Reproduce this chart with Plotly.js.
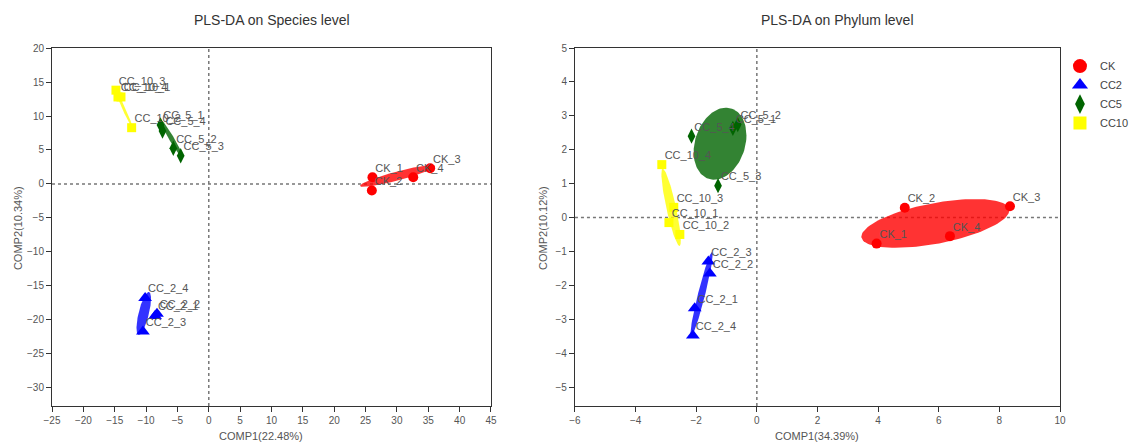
<!DOCTYPE html>
<html><head><meta charset="utf-8">
<script src="https://cdn.plot.ly/plotly-3.0.1.min.js"></script>
<style>html,body{margin:0;padding:0;background:#fff}#chart{width:1131px;height:443px}</style>
</head><body><div id="chart"></div>
<script>
// ---------- groups ----------
const groups = ['CK', 'CC2', 'CC5', 'CC10'];
const groupColors = ['#FF0000', '#0000FF', '#006400', '#FFFF00'];
const groupFills = ['rgba(255,0,0,0.8)', 'rgba(0,0,255,0.8)', 'rgba(0,100,0,0.8)', 'rgba(255,255,0,0.8)'];
const groupSymbols = ['circle', 'triangle-up', 'diamond-tall', 'square'];
const groupSizes = [10, 12, 11, 9];

// ---------- sample labels ----------
const ckLabels = ['CK_1', 'CK_2', 'CK_3', 'CK_4'];
const cc2Labels = ['CC_2_1', 'CC_2_2', 'CC_2_3', 'CC_2_4'];
const cc5Labels = ['CC_5_1', 'CC_5_2', 'CC_5_3', 'CC_5_4'];
const cc10Labels = ['CC_10_1', 'CC_10_2', 'CC_10_3', 'CC_10_4'];

// ---------- Species level scores (COMP1, COMP2) ----------
const speciesCKx = [26.1, 26.0, 35.3, 32.6];
const speciesCKy = [0.99, -0.95, 2.31, 0.99];
const speciesCC2x = [-8.57, -8.26, -10.5, -10.15];
const speciesCC2y = [-19.4, -19.1, -21.7, -16.76];
const speciesCC5x = [-7.70, -5.66, -4.48, -7.38];
const speciesCC5y = [8.68, 5.25, 4.16, 7.79];
const speciesCC10x = [-14.0, -12.3, -14.8, -14.48];
const speciesCC10y = [12.8, 8.28, 13.8, 12.8];
// ellipse per group: [centerX, centerY, axis1X, axis1Y, axis2X, axis2Y]
const speciesCKEllipse = [30.1, 1.18, 5.98, 1.47, 0.185, -0.64];
const speciesCC2Ellipse = [-10.37, -19.04, 0.837, 3.16, 0.80, -0.18];
const speciesCC5Ellipse = [-5.95, 6.69, 1.834, -2.868, 0.344, 0.187];
const speciesCC10Ellipse = [-13.6, 11.18, 1.515, -3.09, 0.218, 0.091];

// ---------- Phylum level scores (COMP1, COMP2) ----------
const phylumCKx = [3.95, 4.88, 8.35, 6.37];
const phylumCKy = [-0.77, 0.29, 0.33, -0.55];
const phylumCC2x = [-2.05, -1.55, -1.60, -2.11];
const phylumCC2y = [-2.68, -1.65, -1.30, -3.48];
const phylumCC5x = [-0.79, -0.63, -1.28, -2.155];
const phylumCC5y = [2.63, 2.74, 0.94, 2.40];
const phylumCC10x = [-2.90, -2.54, -2.74, -3.135];
const phylumCC10y = [-0.15, -0.50, 0.30, 1.56];
const phylumEllipseScale = 1.27;

// ---------- axes ----------
const speciesXRange = [-25, 45];
const speciesYRange = [-32.65, 20];
const phylumXRange = [-6, 10];
const phylumYRange = [-5.56, 5];
const titles = ['PLS-DA on Species level', 'PLS-DA on Phylum level'];
const xTitles = ['COMP1(22.48%)', 'COMP1(34.39%)'];
const yTitles = ['COMP2(10.34%)', 'COMP2(10.12%)'];

// ---------- helpers ----------
const N = 120;
function paramEllipse(p) {
  const xs = [], ys = [];
  for (let i = 0; i <= N; i++) {
    const t = 2 * Math.PI * i / N;
    xs.push(p[0] + p[2] * Math.cos(t) + p[4] * Math.sin(t));
    ys.push(p[1] + p[3] * Math.cos(t) + p[5] * Math.sin(t));
  }
  return [xs, ys];
}
function covEllipse(x, y, k) {
  const n = x.length;
  const mx = x.reduce((a, b) => a + b, 0) / n, my = y.reduce((a, b) => a + b, 0) / n;
  let sxx = 0, syy = 0, sxy = 0;
  for (let i = 0; i < n; i++) {
    sxx += (x[i] - mx) ** 2; syy += (y[i] - my) ** 2; sxy += (x[i] - mx) * (y[i] - my);
  }
  sxx /= (n - 1); syy /= (n - 1); sxy /= (n - 1);
  const l11 = Math.sqrt(sxx), l21 = sxy / l11, l22 = Math.sqrt(Math.max(syy - l21 * l21, 1e-9));
  const xs = [], ys = [];
  for (let i = 0; i <= N; i++) {
    const t = 2 * Math.PI * i / N;
    xs.push(mx + k * l11 * Math.cos(t));
    ys.push(my + k * (l21 * Math.cos(t) + l22 * Math.sin(t)));
  }
  return [xs, ys];
}

const labels = [ckLabels, cc2Labels, cc5Labels, cc10Labels];
const speciesX = [speciesCKx, speciesCC2x, speciesCC5x, speciesCC10x];
const speciesY = [speciesCKy, speciesCC2y, speciesCC5y, speciesCC10y];
const speciesEll = [speciesCKEllipse, speciesCC2Ellipse, speciesCC5Ellipse, speciesCC10Ellipse];
const phylumX = [phylumCKx, phylumCC2x, phylumCC5x, phylumCC10x];
const phylumY = [phylumCKy, phylumCC2y, phylumCC5y, phylumCC10y];

const traces = [];
const txtFont = {family: 'Liberation Sans, Arial, sans-serif', size: 11, color: '#555'};

// ellipses
groups.forEach((g, i) => {
  const e1 = paramEllipse(speciesEll[i]);
  traces.push({x: e1[0], y: e1[1], xaxis: 'x', yaxis: 'y', mode: 'lines', fill: 'toself',
    fillcolor: groupFills[i], line: {width: 0, color: groupFills[i]}, showlegend: false, hoverinfo: 'skip'});
  const e2 = covEllipse(phylumX[i], phylumY[i], phylumEllipseScale);
  traces.push({x: e2[0], y: e2[1], xaxis: 'x2', yaxis: 'y2', mode: 'lines', fill: 'toself',
    fillcolor: groupFills[i], line: {width: 0, color: groupFills[i]}, showlegend: false, hoverinfo: 'skip'});
});
// markers
groups.forEach((g, i) => {
  [['x', 'y', speciesX[i], speciesY[i]], ['x2', 'y2', phylumX[i], phylumY[i]]].forEach(([xa, ya, xs, ys]) => {
    traces.push({x: xs, y: ys, xaxis: xa, yaxis: ya, mode: 'markers', showlegend: false,
      marker: {symbol: groupSymbols[i], size: groupSizes[i], color: groupColors[i], line: {width: 0}}});
  });
});
// labels
groups.forEach((g, i) => {
  [['x', 'y', speciesX[i], speciesY[i]], ['x2', 'y2', phylumX[i], phylumY[i]]].forEach(([xa, ya, xs, ys]) => {
    traces.push({x: xs, y: ys, xaxis: xa, yaxis: ya, mode: 'markers+text', text: labels[i],
      textposition: 'top right', textfont: txtFont, showlegend: false, hoverinfo: 'skip',
      marker: {size: 3, color: 'rgba(0,0,0,0)'}});
  });
});
// legend entries
const legendSizes = [14, 14, 14, 13];
groups.forEach((g, i) => {
  traces.push({x: [null], y: [null], xaxis: 'x2', yaxis: 'y2', mode: 'markers', name: g, showlegend: true,
    marker: {symbol: groupSymbols[i], size: legendSizes[i], color: groupColors[i]}});
});

const axisBase = {showline: true, mirror: true, linecolor: '#333', linewidth: 1, ticks: 'outside',
  ticklen: 5, tickcolor: '#333', showgrid: false, zeroline: false,
  tickfont: {family: 'Liberation Sans, Arial, sans-serif', size: 10, color: '#555'}};

const dot = {color: '#777', width: 1.5, dash: 'dot'};
const layout = {
  width: 1131, height: 443,
  margin: {l: 52, r: 71, t: 48, b: 37, autoexpand: false},
  paper_bgcolor: '#fff', plot_bgcolor: '#fff',
  hovermode: false,
  font: {family: 'Liberation Sans, Arial, sans-serif'},
  xaxis: Object.assign({}, axisBase, {domain: [0, 0.4355], range: speciesXRange, dtick: 5, tick0: 0, anchor: 'y'}),
  yaxis: Object.assign({}, axisBase, {domain: [0, 1], range: speciesYRange, dtick: 5, tick0: 0, anchor: 'x'}),
  xaxis2: Object.assign({}, axisBase, {domain: [0.5188, 1], range: phylumXRange, dtick: 2, tick0: 0, anchor: 'y2'}),
  yaxis2: Object.assign({}, axisBase, {domain: [0, 1], range: phylumYRange, dtick: 1, tick0: 0, anchor: 'x2'}),
  showlegend: true,
  legend: {xref: 'container', x: 0.9372, y: 0.99, xanchor: 'left', yanchor: 'top', bgcolor: 'rgba(0,0,0,0)',
    font: {family: 'Liberation Sans, Arial, sans-serif', size: 11, color: '#444'}, tracegroupgap: 0},
  shapes: [
    {type: 'line', layer: 'below', xref: 'x', yref: 'y domain', x0: 0, x1: 0, y0: 0, y1: 1, line: dot},
    {type: 'line', layer: 'below', xref: 'x domain', yref: 'y', x0: 0, x1: 1, y0: 0, y1: 0, line: dot},
    {type: 'line', layer: 'below', xref: 'x2', yref: 'y2 domain', x0: 0, x1: 0, y0: 0, y1: 1, line: dot},
    {type: 'line', layer: 'below', xref: 'x2 domain', yref: 'y2', x0: 0, x1: 1, y0: 0, y1: 0, line: dot}
  ],
  annotations: [
    {text: titles[0], xref: 'paper', yref: 'paper', x: 0.218, y: 1.078, showarrow: false, xanchor: 'center', yanchor: 'middle',
      font: {size: 14, color: '#333'}},
    {text: titles[1], xref: 'paper', yref: 'paper', x: 0.779, y: 1.078, showarrow: false, xanchor: 'center', yanchor: 'middle',
      font: {size: 14, color: '#333'}},
    {text: xTitles[0], xref: 'paper', yref: 'paper', x: 0.2073, y: -0.0838, showarrow: false, xanchor: 'center', yanchor: 'middle',
      font: {size: 11, color: '#555'}},
    {text: xTitles[1], xref: 'paper', yref: 'paper', x: 0.759, y: -0.0838, showarrow: false, xanchor: 'center', yanchor: 'middle',
      font: {size: 11, color: '#555'}},
    {text: yTitles[0], xref: 'paper', yref: 'paper', x: -0.0337, y: 0.497, showarrow: false, xanchor: 'center', yanchor: 'middle',
      textangle: -90, font: {size: 11, color: '#555'}},
    {text: yTitles[1], xref: 'paper', yref: 'paper', x: 0.487, y: 0.497, showarrow: false, xanchor: 'center', yanchor: 'middle',
      textangle: -90, font: {size: 11, color: '#555'}}
  ]
};

Plotly.newPlot('chart', traces, layout, {displayModeBar: false, staticPlot: true});
</script></body></html>
